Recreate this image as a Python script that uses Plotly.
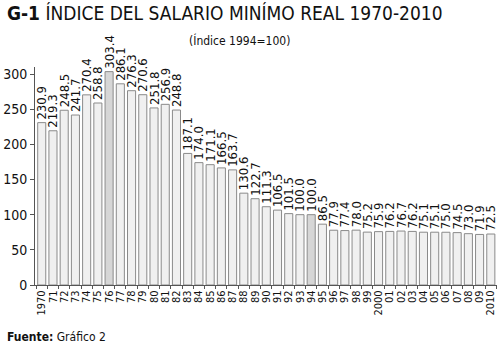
import plotly.graph_objects as go

years = ["1970","71","72","73","74","75","76","77","78","79","80","81","82","83","84","85","86","87","88","89",
         "90","91","92","93","94","95","96","97","98","99","2000","01","02","03","04","05","06","07","08","09","2010"]
values = [230.9,219.3,248.5,241.7,270.4,258.8,303.4,286.1,276.3,270.6,251.8,256.9,248.8,187.1,174.0,171.1,166.5,163.7,
          130.6,122.7,111.3,106.5,101.5,100.0,100.0,86.5,77.9,77.4,78.0,75.2,75.9,76.2,76.7,76.2,75.1,75.1,75.0,74.5,
          73.0,71.9,72.5]
highlight = ["76", "94"]

FONT = "Liberation Sans Narrow, DejaVu Sans Condensed, Arial Narrow, sans-serif"
colors = ["#d6d6d6" if y in highlight else "#f0f0f0" for y in years]

fig = go.Figure(go.Bar(
    x=years, y=values,
    marker=dict(color=colors, line=dict(color="#8a8a8a", width=1)),
    text=[f"{v:.1f}" for v in values],
    textposition="outside", textangle=-90, constraintext="none",
    textfont=dict(family=FONT, size=13, color="#111"),
    cliponaxis=False,
))

fig.update_layout(
    width=500, height=346,
    margin=dict(l=30, r=3, t=67, b=61),
    paper_bgcolor="white", plot_bgcolor="white",
    bargap=0.28, showlegend=False,
    font=dict(family=FONT, color="#111"),
    annotations=[
        dict(text="<b>G-1</b> ÍNDICE DEL SALARIO MINÍMO REAL 1970-2010", x=0, y=1, xref="paper", yref="paper",
             xanchor="left", yanchor="top", showarrow=False, font=dict(size=19, family=FONT, color="#111"),
             xshift=-30, yshift=67),
        dict(text="(Índice 1994=100)", x=(237 - 30) / (500 - 33), xref="paper", y=1, yref="paper", showarrow=False,
             font=dict(size=12, family=FONT, color="#111"), xanchor="center", yanchor="middle",
             yshift=27),
        dict(text="<b>Fuente:</b> Gráfico 2", x=0, y=0, xref="paper", yref="paper", xanchor="left", yanchor="bottom",
             showarrow=False, font=dict(size=12, family=FONT, color="#111"), xshift=-30, yshift=-61),
    ],
)

fig.update_yaxes(range=[0, 310], tickvals=[0, 50, 100, 150, 200, 250, 300], showgrid=False,
                 showline=True, linecolor="#555", linewidth=1, ticks="outside", ticklen=4, tickcolor="#555",
                 tickfont=dict(size=14, family=FONT), zeroline=False)
fig.update_xaxes(type="category", showline=True, linecolor="#555", linewidth=1, ticks="outside",
                 tickmode="array", tickvals=years, ticktext=years,
                 tickson="boundaries", ticklen=3, tickcolor="#555", tickangle=-90,
                 tickfont=dict(size=11, family=FONT), range=[-0.6, len(years) - 0.45])

fig.write_html("out.html")
